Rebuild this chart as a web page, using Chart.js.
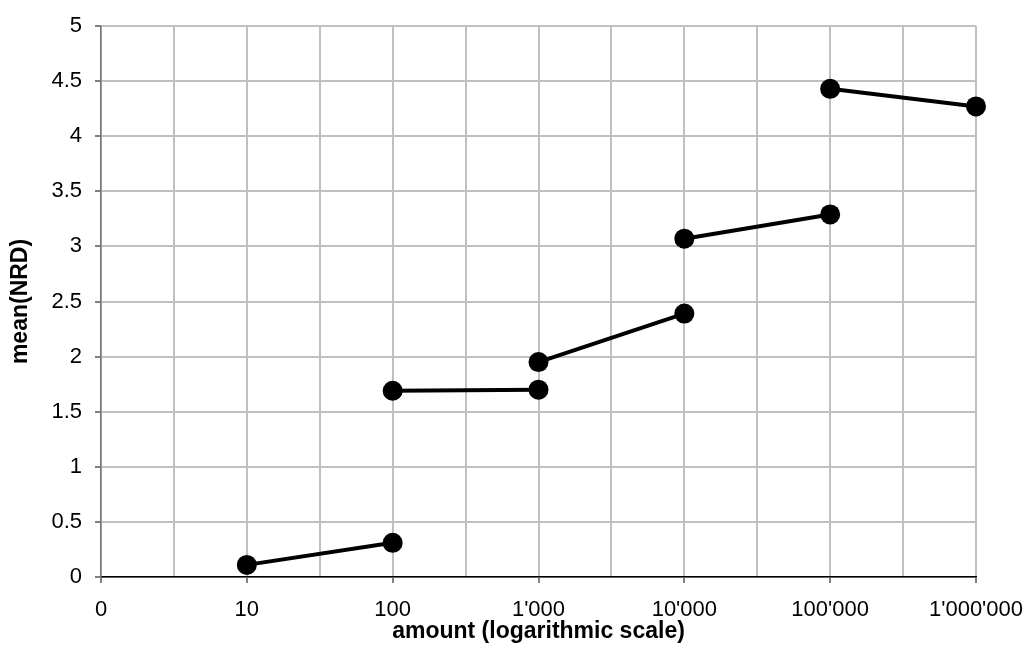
<!DOCTYPE html>
<html>
<head>
<meta charset="utf-8">
<script src="https://cdn.jsdelivr.net/npm/chart.js@4"></script>
<style>
  html, body { margin: 0; padding: 0; background: #fff; }
  #wrap { width: 1028px; height: 661px; position: relative; }
</style>
</head>
<body>
<div id="wrap"><canvas id="c" width="1028" height="661"></canvas></div>
<script>
// Tick labels for the x axis (position = log10 of the amount; 0 shown at the origin)
const xTickLabels = ["0", "10", "100", "1'000", "10'000", "100'000", "1'000'000"];

// Each segment: two amounts and their mean(NRD)
const seg1Amounts = [10, 100];
const seg1Values  = [0.11, 0.31];
const seg2Amounts = [100, 1000];
const seg2Values  = [1.69, 1.70];
const seg3Amounts = [1000, 10000];
const seg3Values  = [1.95, 2.39];
const seg4Amounts = [10000, 100000];
const seg4Values  = [3.07, 3.29];
const seg5Amounts = [100000, 1000000];
const seg5Values  = [4.43, 4.27];

const segments = [
  [seg1Amounts, seg1Values],
  [seg2Amounts, seg2Values],
  [seg3Amounts, seg3Values],
  [seg4Amounts, seg4Values],
  [seg5Amounts, seg5Values]
];

const FONT = "'Liberation Sans', Arial, sans-serif";

const datasets = segments.map(([a, v]) => ({
  data: a.map((amt, i) => ({ x: Math.log10(amt), y: v[i] })),
  showLine: true,
  borderColor: '#000',
  backgroundColor: '#000',
  borderWidth: 4,
  pointRadius: 10,
  pointBackgroundColor: '#000',
  pointBorderColor: '#000',
  pointBorderWidth: 0,
  clip: false
}));

new Chart(document.getElementById('c'), {
  type: 'scatter',
  data: { datasets },
  options: {
    responsive: false,
    animation: false,
    events: [],
    layout: { padding: { top: 26, right: 52, bottom: 0, left: 0 } },
    plugins: { legend: { display: false }, tooltip: { enabled: false } },
    scales: {
      x: {
        type: 'linear',
        min: 0, max: 6,
        afterFit: s => { s.height = 84; s.paddingRight = 0; s.paddingLeft = 0; },
        ticks: {
          stepSize: 0.5,
          autoSkip: false,
          maxRotation: 0,
          padding: 14,
          color: '#000',
          font: { family: FONT, size: 22 },
          callback: v => (Number.isInteger(v) ? xTickLabels[v] : '')
        },
        grid: {
          color: '#c0c0c0',
          lineWidth: 2,
          tickLength: 6,
          tickColor: ctx => (ctx.tick && Number.isInteger(ctx.tick.value) ? '#000' : 'rgba(0,0,0,0)'),
          tickWidth: 1
        },
        border: { color: '#000', width: 1.5 },
        title: {
          display: true,
          text: 'amount (logarithmic scale)',
          color: '#000',
          font: { family: FONT, size: 23, weight: 'bold' },
          padding: { top: 16, bottom: 16 }
        }
      },
      y: {
        type: 'linear',
        min: 0, max: 5,
        afterFit: s => { s.width = 101; s.paddingTop = 0; s.paddingBottom = 0; },
        ticks: {
          stepSize: 0.5,
          padding: 13,
          color: '#000',
          font: { family: FONT, size: 22 },
          callback: v => String(v)
        },
        grid: {
          color: '#c0c0c0',
          lineWidth: 2,
          tickLength: 6,
          tickColor: '#000',
          tickWidth: 1
        },
        border: { color: '#777', width: 1.5 },
        title: {
          display: true,
          text: 'mean(NRD)',
          color: '#000',
          font: { family: FONT, size: 23, weight: 'bold' },
          padding: { top: 7, bottom: 7 }
        }
      }
    }
  }
});
</script>
</body>
</html>
